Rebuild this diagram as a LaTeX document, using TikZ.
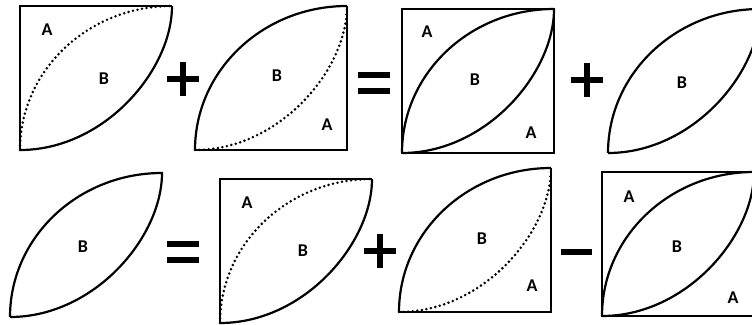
\documentclass[tikz,border=0pt]{standalone}
\usepackage{fontspec}
\setsansfont{Carlito}
\tikzset{
  lab/.style={font=\sffamily\bfseries\fontsize{18}{20}\selectfont, inner sep=0pt},
  rim/.style={line width=2.2pt},
  boxrim/.style={line width=2.8pt},
  dotarc/.style={line width=2.8pt, line cap=round, dash pattern=on 0pt off 4.6pt},
  sumsign/.style={line width=5.5pt},
}
\begin{document}
\begin{tikzpicture}[x=1pt,y=-1pt]
    \useasboundingbox (0,0) rectangle (752,324);
    % row 1: quarter + quarter = square + lens
    \begin{scope}[shift={(20,6)}]
      \draw[rim] (0,144) -- (0,0) -- (152,0);
      \draw[rim] (0,144) .. controls (84,144) and (152,64.5) .. (152,0);
      \draw[dotarc] (0,144) .. controls (0,64.5) and (68,0) .. (152,0);
    \end{scope}
    \begin{scope}[shift={(195,6)}]
      \draw[rim] (0,144) -- (152,144) -- (152,0);
      \draw[rim] (0,144) .. controls (0,64.5) and (68,0) .. (152,0);
      \draw[dotarc] (0,144) .. controls (84,144) and (152,64.5) .. (152,0);
    \end{scope}
    \begin{scope}[shift={(402,9)}]
      \draw[boxrim] (0,0) rectangle (152,144);
      \draw[rim] (0,144) .. controls (0,64.5) and (68,0) .. (152,0);
      \draw[rim] (0,144) .. controls (84,144) and (152,64.5) .. (152,0);
    \end{scope}
    \begin{scope}[shift={(608,9)}]
      \draw[rim] (0,144) .. controls (0,64.5) and (68,0) .. (152,0)
                 .. controls (152,64.5) and (84,144) .. (0,144);
    \end{scope}
    % row 2: lens = quarter + quarter - square
    \begin{scope}[shift={(10,173)}]
      \draw[rim] (0,144) .. controls (0,64.5) and (68,0) .. (152,0)
                 .. controls (152,64.5) and (84,144) .. (0,144);
    \end{scope}
    \begin{scope}[shift={(220,179)}]
      \draw[rim] (0,144) -- (0,0) -- (152,0);
      \draw[rim] (0,144) .. controls (84,144) and (152,64.5) .. (152,0);
      \draw[dotarc] (0,144) .. controls (0,64.5) and (68,0) .. (152,0);
    \end{scope}
    \begin{scope}[shift={(399,168)}]
      \draw[rim] (0,144) -- (152,144) -- (152,0);
      \draw[rim] (0,144) .. controls (0,64.5) and (68,0) .. (152,0);
      \draw[dotarc] (0,144) .. controls (84,144) and (152,64.5) .. (152,0);
    \end{scope}
    \begin{scope}[shift={(602,172)}]
      \draw[boxrim] (0,0) rectangle (152,144);
      \draw[rim] (0,144) .. controls (0,64.5) and (68,0) .. (152,0);
      \draw[rim] (0,144) .. controls (84,144) and (152,64.5) .. (152,0);
    \end{scope}
    % operators
    \foreach \px/\py in {183/79, 587/80, 380/251}
      \draw[sumsign] (\px-16,\py) -- (\px+16,\py) (\px,\py-17) -- (\px,\py+17);
    \foreach \px/\py in {374/83, 183/252}
      \draw[sumsign] (\px-16,\py-8) -- (\px+16,\py-8) (\px-16,\py+8) -- (\px+16,\py+8);
    \draw[sumsign] (561,252) -- (592,252);
    % labels
    \node[lab] (a1) at (47,30) {A};
    \node[lab] (b1) at (104,79) {B};
    \node[lab] (b2) at (277,76) {B};
    \node[lab] (a2) at (327,125) {A};
    \node[lab] (a3) at (427,32) {A};
    \node[lab] (b3) at (475,80) {B};
    \node[lab] (a4) at (531,133) {A};
    \node[lab] (b4) at (682,83) {B};
    \node[lab] (b5) at (83,247) {B};
    \node[lab] (a5) at (247,203) {A};
    \node[lab] (b6) at (303,251) {B};
    \node[lab] (b7) at (482,239) {B};
    \node[lab] (a6) at (532,286) {A};
    \node[lab] (a7) at (629,197) {A};
    \node[lab] (b8) at (677,247) {B};
    \node[lab] (a8) at (733,298) {A};
  \end{tikzpicture}
\end{document}
